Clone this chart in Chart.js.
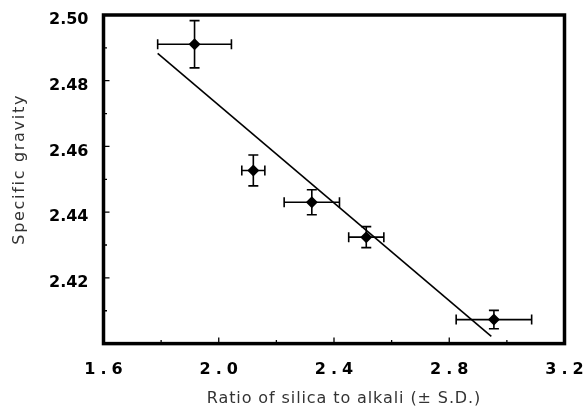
<!DOCTYPE html>
<html>
<head>
<meta charset="utf-8">
<script src="https://cdn.jsdelivr.net/npm/chart.js@4"></script>
<style>
  html, body { margin: 0; padding: 0; background: #fff; }
  #wrap { width: 584px; height: 410px; }
</style>
</head>
<body>
<div id="wrap"><canvas id="gravityChart"></canvas></div>
<script>
// values
const ratio = [1.916, 2.12, 2.323, 2.512, 2.955];
const gravity = [2.4911, 2.4527, 2.443, 2.4324, 2.4073];
const ratioSD = [0.128, 0.04, 0.096, 0.061, 0.131];
const gravitySD = [0.0072, 0.0047, 0.0038, 0.0032, 0.0028];

// regression line end points
const fitRatio = [1.788, 2.946];
const fitGravity = [2.4883, 2.4022];

const xTicks = [1.6, 1.8, 2.0, 2.2, 2.4, 2.6, 2.8, 3.0, 3.2];
const xLabels = ["1.6", "2.0", "2.4", "2.8", "3.2"];
const yTicks = [2.40, 2.41, 2.42, 2.43, 2.44, 2.45, 2.46, 2.47, 2.48, 2.49, 2.50];
const yLabels = ["2.42", "2.44", "2.46", "2.48", "2.50"];

const tickFont = { family: "DejaVu Sans", weight: "bold", size: 16 };
const titleFont = { family: "DejaVu Sans", size: 16 };

// error bars, drawn under the markers
const errorBars = {
  id: "errorBars",
  beforeDatasetsDraw(chart) {
    const { ctx, scales: { x, y } } = chart;
    const cap = 5;
    ctx.save();
    ctx.strokeStyle = "#000";
    ctx.lineWidth = 1.6;
    ratio.forEach((r, i) => {
      const px = x.getPixelForValue(r);
      const py = y.getPixelForValue(gravity[i]);
      const x0 = x.getPixelForValue(r - ratioSD[i]);
      const x1 = x.getPixelForValue(r + ratioSD[i]);
      const y0 = y.getPixelForValue(gravity[i] - gravitySD[i]);
      const y1 = y.getPixelForValue(gravity[i] + gravitySD[i]);
      ctx.beginPath();
      ctx.moveTo(x0, py); ctx.lineTo(x1, py);
      ctx.moveTo(x0, py - cap); ctx.lineTo(x0, py + cap);
      ctx.moveTo(x1, py - cap); ctx.lineTo(x1, py + cap);
      ctx.moveTo(px, y0); ctx.lineTo(px, y1);
      ctx.moveTo(px - cap, y0); ctx.lineTo(px + cap, y0);
      ctx.moveTo(px - cap, y1); ctx.lineTo(px + cap, y1);
      ctx.stroke();
    });
    ctx.restore();
  },
};

// heavy frame and inward tick marks
const frame = {
  id: "frame",
  afterDraw(chart) {
    const { ctx, chartArea: a, scales: { x, y } } = chart;
    ctx.save();
    ctx.strokeStyle = "#000";
    ctx.lineWidth = 1.3;
    ctx.beginPath();
    x.ticks.forEach((t) => {
      if (t.value <= 1.6 || t.value >= 3.2) return;
      const px = x.getPixelForValue(t.value);
      const len = xLabels.includes(t.value.toFixed(1)) ? 6 : 3.5;
      ctx.moveTo(px, a.bottom);
      ctx.lineTo(px, a.bottom - len);
    });
    y.ticks.forEach((t) => {
      if (t.value <= 2.40 || t.value >= 2.50) return;
      const py = y.getPixelForValue(t.value);
      const len = yLabels.includes(t.value.toFixed(2)) ? 6 : 3.5;
      ctx.moveTo(a.left, py);
      ctx.lineTo(a.left + len, py);
    });
    ctx.stroke();
    ctx.lineWidth = 3.5;
    ctx.lineJoin = "miter";
    ctx.strokeRect(a.left, a.top, a.right - a.left, a.bottom - a.top);
    ctx.restore();
  },
};

// letter spacing for the spaced-out labels and titles
const spacing = {
  id: "spacing",
  beforeDraw(chart) {
    const wrap = (scale, name, gap, dx, dy) => {
      const orig = scale[name].bind(scale);
      scale[name] = function (...args) {
        const c = this.ctx;
        c.save();
        c.letterSpacing = gap + "px";
        c.translate(dx, dy);
        orig(...args);
        c.restore();
      };
    };
    const { x, y } = chart.scales;
    if (x._spaced) return;
    wrap(x, "drawLabels", 5, 2.5, 0);
    wrap(x, "drawTitle", 0.9, 10, 0);
    wrap(y, "drawTitle", 1.7, 0, -10);
    x._spaced = true;
  },
};

const ctx = document.getElementById("gravityChart").getContext("2d");
new Chart(ctx, {
  type: "scatter",
  data: {
    datasets: [
      {
        label: "Specific gravity",
        data: ratio.map((r, i) => ({ x: r, y: gravity[i] })),
        pointStyle: "rectRot",
        pointRadius: 6,
        pointHoverRadius: 6,
        backgroundColor: "#000",
        borderColor: "#000",
        borderWidth: 0,
      },
      {
        type: "line",
        label: "Fit",
        data: fitRatio.map((r, i) => ({ x: r, y: fitGravity[i] })),
        borderColor: "#000",
        borderWidth: 1.6,
        pointRadius: 0,
        fill: false,
      },
    ],
  },
  options: {
    responsive: true,
    maintainAspectRatio: false,
    animation: false,
    layout: { padding: { left: 10.4, right: 19.5, top: 15, bottom: 1.4 } },
    plugins: {
      legend: { display: false },
      tooltip: { enabled: false },
    },
    scales: {
      x: {
        type: "linear",
        min: 1.6,
        max: 3.2,
        afterBuildTicks: (s) => { s.ticks = xTicks.map((v) => ({ value: v })); },
        afterFit: (s) => { s.height = 65; s.paddingLeft = 0; s.paddingRight = 0; },
        grid: { display: false, drawTicks: false },
        border: { display: false },
        ticks: {
          autoSkip: false,
          maxRotation: 0,
          padding: 17,
          color: "#000",
          font: tickFont,
          callback: (v) => (xLabels.includes(v.toFixed(1)) ? v.toFixed(1) : ""),
        },
        title: {
          display: true,
          text: "Ratio of silica to alkali (± S.D.)",
          color: "#333",
          font: titleFont,
          padding: 0,
        },
      },
      y: {
        type: "linear",
        min: 2.40,
        max: 2.50,
        afterBuildTicks: (s) => { s.ticks = yTicks.map((v) => ({ value: v })); },
        afterFit: (s) => { s.width = 93.1; s.paddingTop = 0; s.paddingBottom = 0; },
        grid: { display: false, drawTicks: false },
        border: { display: false },
        ticks: {
          autoSkip: false,
          padding: 15,
          labelOffset: 5,
          color: "#000",
          font: tickFont,
          callback: (v) => (yLabels.includes(v.toFixed(2)) ? v.toFixed(2) : ""),
        },
        title: {
          display: true,
          text: "Specific gravity",
          color: "#333",
          font: titleFont,
          padding: 0,
        },
      },
    },
  },
  plugins: [errorBars, frame, spacing],
});
</script>
</body>
</html>
